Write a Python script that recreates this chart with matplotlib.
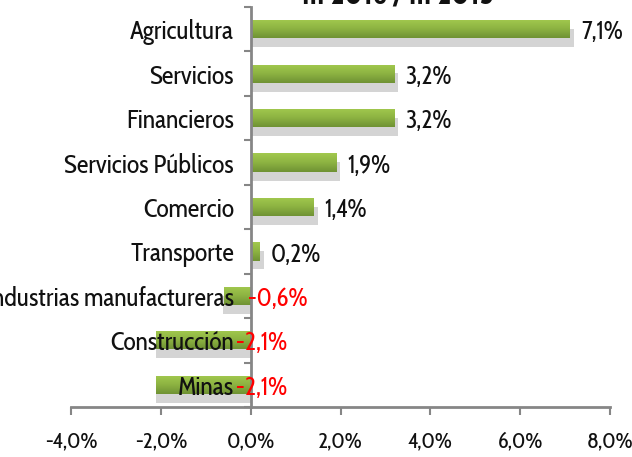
import matplotlib
matplotlib.use("Agg")
import matplotlib.pyplot as plt
import numpy as np
from matplotlib.colors import LinearSegmentedColormap
from matplotlib.ticker import FixedLocator

categories = ["Agricultura", "Servicios", "Financieros", "Servicios Públicos",
              "Comercio", "Transporte", "Industrias manufactureras",
              "Construcción", "Minas"]
values = [7.1, 3.2, 3.2, 1.9, 1.4, 0.2, -0.6, -2.1, -2.1]
value_labels = ["7,1%", "3,2%", "3,2%", "1,9%", "1,4%", "0,2%", "-0,6%", "-2,1%", "-2,1%"]
xticks = [-4, -2, 0, 2, 4, 6, 8]
xtick_labels = ["-4,0%", "-2,0%", "0,0%", "2,0%", "4,0%", "6,0%", "8,0%"]
title = "III 2016 / III 2015"

FONT = ["Cabin Condensed", "PT Sans Narrow", "Liberation Sans", "DejaVu Sans"]
plt.rcParams["font.family"] = FONT

fig = plt.figure(figsize=(6.32, 4.57), dpi=100)
ax = fig.add_axes([71/632, 1-407/457, (610-71)/632, (407-7)/457])

n = len(categories)
y = np.arange(n)
h = 0.41
gray = "#868686"

# shadows
for yi, v in zip(y, values):
    ax.barh(yi + 0.2, v + (0.05 if v > 0 else -0.05), height=h, left=0.04,
            color="#cacaca", alpha=0.8, zorder=1, linewidth=0)

cmap = LinearSegmentedColormap.from_list("g", ["#a2c94e", "#8db342", "#6f9234"])
grad = np.linspace(0, 1, 64).reshape(-1, 1)
bars = ax.barh(y, values, height=h, color="none", linewidth=0, zorder=2)
for b in bars:
    x0, y0 = b.get_x(), b.get_y()
    w, hh = b.get_width(), b.get_height()
    xa, xb = min(x0, x0 + w), max(x0, x0 + w)
    im = ax.imshow(grad, cmap=cmap, aspect="auto", extent=(xa, xb, y0 + hh, y0),
                   origin="upper", zorder=2, interpolation="bilinear")
    im.set_clip_path(b)

ax.set_xlim(-4, 8)
ax.set_ylim(n - 0.5, -0.5)

for yi, v, lab in zip(y, values, value_labels):
    if v >= 0:
        ax.text(v + 0.25, yi + 0.07, lab, ha="left", va="center",
                fontsize=18, color="#111111", zorder=5)
    else:
        xs = -0.07 if v > -1 else -0.32
        ax.text(xs, yi + 0.07, lab, ha="left", va="center",
                fontsize=18, color="#ff0000", zorder=5)

ax.set_yticks(y)
ax.set_yticklabels(categories)
ax.tick_params(axis="y", which="major", length=0, pad=12, labelsize=18.5, labelcolor="#111111")
ax.yaxis.set_minor_locator(FixedLocator(np.arange(n + 1) - 0.5))
ax.tick_params(axis="y", which="minor", length=5, width=1.5, color=gray, direction="out")

ax.set_xticks(xticks)
ax.set_xticklabels(xtick_labels)
ax.tick_params(axis="x", which="major", length=6, width=1.5, color=gray, pad=11,
               labelsize=16, labelcolor="#111111")

for s in ["top", "right"]:
    ax.spines[s].set_visible(False)
ax.spines["left"].set_position(("data", 0))
ax.spines["left"].set_color(gray)
ax.spines["left"].set_linewidth(2)
ax.spines["bottom"].set_color(gray)
ax.spines["bottom"].set_linewidth(2)
ax.spines["left"].set_zorder(4)
ax.yaxis.set_zorder(6)

fig.text(398/632, 1 - 4/457, title, ha="center", va="baseline",
         fontsize=22, fontweight="bold", color="#111111")

fig.savefig("out.png", dpi=100)
